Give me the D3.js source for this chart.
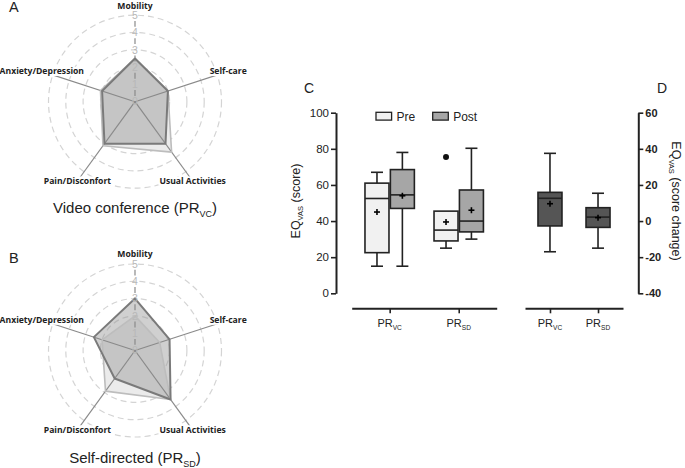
<!DOCTYPE html>
<html><head><meta charset="utf-8">
<script src="https://cdn.jsdelivr.net/npm/d3@7"></script>
<style>body{margin:0;background:#fff}svg{display:block}</style>
</head><body>
<svg id="chart" width="685" height="468"></svg>
<script>
// ---------- DATA ----------
const radarAxes = ["Mobility", "Self-care", "Usual Activities", "Pain/Disconfort", "Anxiety/Depression"];
const radarTicks = [0, 1, 2, 3, 4, 5];
const vcPre  = [2.5, 2.0, 3.6, 3.15, 2.1];
const vcPost = [2.5, 2.0, 3.0, 3.0, 2.0];
const sdPre  = [2.0, 1.5, 3.5, 2.9, 2.0];
const sdPost = [3.0, 2.1, 3.5, 2.0, 2.5];

const groups = ["VC", "SD"];
const seriesNames = ["Pre", "Post"];
const scoreTicks = [0, 20, 40, 60, 80, 100];
const changeTicks = [-40, -20, 0, 20, 40, 60];

const preMin  = [15, 25],   preQ1  = [22.5, 29],  preMed  = [52.5, 35],  preQ3  = [61, 45.5],  preMax  = [67, 45.5],  preMean  = [45, 39.5];
const preOut  = [[], [75.5]];
const postMin = [15, 30],   postQ1 = [47, 34],    postMed = [54.5, 40],  postQ3 = [68.5, 57.2], postMax = [78, 80.3], postMean = [54, 46];
const postOut = [[], []];
const chgMin  = [-17, -15], chgQ1  = [-2.7, -3.5], chgMed = [12.6, 2.2], chgQ3  = [15.9, 7.4], chgMax  = [37.5, 15.4], chgMean = [9.6, 1.9];
const chgOut  = [[], []];

// ---------- DRAW ----------
const svg = d3.select("#chart");
const SANS = "'Liberation Sans', Arial, sans-serif";
const BOLD = "'Open Sans', 'Noto Sans', sans-serif";

function subText(sel, main, sub, after, size) {
  sel.append("tspan").text(main);
  sel.append("tspan").text(sub).attr("font-size", size * 0.6).attr("dy", size * 0.25);
  if (after) sel.append("tspan").text(after).attr("dy", -size * 0.25);
}

// Radar
const rScale = d3.scaleLinear().domain([0, 5]).range([0, 86.5]);
const nAx = radarAxes.length;
const ang = i => i * 2 * Math.PI / nAx;
const LABEL_R = 98;

function radar(cx, cy, pre, post, letter, titleMain, titleSub, titleY) {
  const g = svg.append("g").attr("transform", `translate(${cx},${cy})`);
  g.selectAll("circle.ring").data(radarTicks.slice(1)).join("circle")
    .attr("r", d => rScale(d)).attr("fill", "none")
    .attr("stroke", "#d4d4d4").attr("stroke-width", 1.2).attr("stroke-dasharray", "6,4");
  const line = d3.lineRadial().angle((d, i) => ang(i)).radius(d => rScale(d)).curve(d3.curveLinearClosed);
  g.append("path").attr("d", line(pre)).attr("fill", "#ebebeb");
  g.append("path").attr("d", line(post)).attr("fill", "rgb(150,150,150)").attr("fill-opacity", 0.45);
  radarAxes.forEach((a, i) => {
    if (i === 0) return;
    const th = ang(i) - Math.PI / 2;
    g.append("line").attr("x1", 0).attr("y1", 0)
      .attr("x2", LABEL_R * Math.cos(th)).attr("y2", LABEL_R * Math.sin(th))
      .attr("stroke", "#8a8a8a").attr("stroke-width", 1.2);
  });
  const step = rScale(1);
  g.append("line").attr("x1", 0).attr("y1", 0).attr("x2", 0).attr("y2", -rScale(5))
    .attr("stroke", "#8a8a8a").attr("stroke-width", 1.2)
    .attr("stroke-dasharray", `0,${step * 0.33},${step * 0.34},${step * 0.33}`);
  g.append("path").attr("d", line(pre)).attr("fill", "none").attr("stroke", "#bdbdbd").attr("stroke-width", 1.6).attr("stroke-linejoin", "round");
  g.append("path").attr("d", line(post)).attr("fill", "none").attr("stroke", "#7a7a7a").attr("stroke-width", 2).attr("stroke-linejoin", "round");
  radarAxes.forEach((a, i) => {
    const th = ang(i) - Math.PI / 2;
    const rr = i === 0 ? 96.2 : LABEL_R;
    const x = rr * Math.cos(th), y = rr * Math.sin(th);
    const lg = g.append("g");
    const t = lg.append("text").attr("x", x).attr("y", y).attr("dy", "0.35em")
      .attr("text-anchor", "middle").attr("font-family", BOLD).attr("font-weight", "bold")
      .attr("font-size", 8.6).attr("fill", "#222").text(a);
    const bb = t.node().getBBox();
    lg.insert("rect", "text").attr("x", bb.x - 1).attr("y", bb.y + bb.height * 0.12)
      .attr("width", bb.width + 2).attr("height", bb.height * 0.76).attr("fill", "#fff");
  });
  g.selectAll("text.tk").data(radarTicks).join("text").attr("class", "tk")
    .attr("x", 0).attr("y", d => -rScale(d)).attr("dy", "0.36em")
    .attr("text-anchor", "middle").attr("font-family", SANS).attr("font-size", 10.5)
    .attr("fill", "#b8b8b8").text(d => d);
  svg.append("text").attr("x", 9).attr("y", cy - (letter === "A" ? 89.5 : 87.5))
    .attr("font-family", SANS).attr("font-size", 14.5).attr("fill", "#222").text(letter);
  const tt = svg.append("text").attr("x", cx).attr("y", titleY).attr("text-anchor", "middle")
    .attr("font-family", SANS).attr("font-size", 15).attr("fill", "#222");
  subText(tt, titleMain, titleSub, ")", 15);
}
radar(135, 101.7, vcPre, vcPost, "A", "Video conference (PR", "VC", 213);
radar(135, 350.5, sdPre, sdPost, "B", "Self-directed (PR", "SD", 463);

// Box plots
const yC = d3.scaleLinear().domain([0, 100]).range([293.3, 112.7]);
const yD = d3.scaleLinear().domain([-40, 60]).range([293.3, 112.7]);
const xC = d3.scalePoint().domain(groups).range([351.7, 496.7]).padding(0.55);
const xD = d3.scalePoint().domain(groups).range([525, 623]).padding(0.52);
const AX = "#222";

function styleAxis(g, size, weight) {
  g.select(".domain").attr("stroke", AX).attr("stroke-width", 2);
  g.selectAll(".tick line").attr("stroke", AX).attr("stroke-width", 1.6);
  g.selectAll(".tick text").attr("font-family", SANS).attr("font-size", size).attr("fill", "#222").attr("font-weight", weight || "normal");
}
const gyC = svg.append("g").attr("transform", "translate(336,0)")
  .call(d3.axisLeft(yC).tickValues(scoreTicks).tickFormat(d => String(d)).tickSize(5).tickSizeOuter(0).tickPadding(2));
styleAxis(gyC, 11.5);
const gyD = svg.append("g").attr("transform", "translate(638.3,0)")
  .call(d3.axisRight(yD).tickValues(changeTicks).tickFormat(d => String(d)).tickSize(5).tickSizeOuter(0).tickPadding(2));
styleAxis(gyD, 11, "bold");
const gxC = svg.append("g").attr("transform", "translate(0,308.3)")
  .call(d3.axisBottom(xC).tickSize(5).tickSizeOuter(0).tickFormat(""));
styleAxis(gxC, 10);
const gxD = svg.append("g").attr("transform", "translate(0,308.3)")
  .call(d3.axisBottom(xD).tickSize(5).tickSizeOuter(0).tickFormat(""));
styleAxis(gxD, 10);

function xLabels(scale) {
  groups.forEach(gname => {
    const t = svg.append("text").attr("x", scale(gname)).attr("y", 327).attr("text-anchor", "middle")
      .attr("font-family", SANS).attr("font-size", 11).attr("fill", "#222");
    subText(t, "PR", gname, null, 11);
  });
}
xLabels(xC); xLabels(xD);

function box(cxp, y, mn, q1, md, q3, mx, mean, outs, fill) {
  const w = 24, cap = 12;
  const g = svg.append("g").attr("stroke", AX).attr("stroke-width", 1.6);
  if (mx > q3) {
    g.append("line").attr("x1", cxp).attr("x2", cxp).attr("y1", y(q3)).attr("y2", y(mx));
    g.append("line").attr("x1", cxp - cap / 2).attr("x2", cxp + cap / 2).attr("y1", y(mx)).attr("y2", y(mx));
  }
  if (mn < q1) {
    g.append("line").attr("x1", cxp).attr("x2", cxp).attr("y1", y(q1)).attr("y2", y(mn));
    g.append("line").attr("x1", cxp - cap / 2).attr("x2", cxp + cap / 2).attr("y1", y(mn)).attr("y2", y(mn));
  }
  g.append("rect").attr("x", cxp - w / 2).attr("y", y(q3)).attr("width", w).attr("height", y(q1) - y(q3)).attr("fill", fill);
  g.append("line").attr("x1", cxp - w / 2).attr("x2", cxp + w / 2).attr("y1", y(md)).attr("y2", y(md));
  const m = y(mean);
  g.append("line").attr("x1", cxp - 3).attr("x2", cxp + 3).attr("y1", m).attr("y2", m).attr("stroke", "#000");
  g.append("line").attr("x1", cxp).attr("x2", cxp).attr("y1", m - 3).attr("y2", m + 3).attr("stroke", "#000");
  outs.forEach(o => svg.append("circle").attr("cx", cxp).attr("cy", y(o)).attr("r", 3).attr("fill", "#111"));
}
const OFF = 12.7;
groups.forEach((gname, i) => {
  box(xC(gname) - OFF, yC, preMin[i], preQ1[i], preMed[i], preQ3[i], preMax[i], preMean[i], preOut[i], "#f1f1f1");
  box(xC(gname) + OFF, yC, postMin[i], postQ1[i], postMed[i], postQ3[i], postMax[i], postMean[i], postOut[i], "#a6a6a6");
  box(xD(gname), yD, chgMin[i], chgQ1[i], chgMed[i], chgQ3[i], chgMax[i], chgMean[i], chgOut[i], "#555555");
});

// Legend
const legX = [376, 432.7];
const legFill = ["#f1f1f1", "#a6a6a6"];
seriesNames.forEach((s, i) => {
  svg.append("rect").attr("x", legX[i]).attr("y", 112.3).attr("width", 15.6).attr("height", 7.8)
    .attr("fill", legFill[i]).attr("stroke", AX).attr("stroke-width", 1.3);
  svg.append("text").attr("x", legX[i] + 20.5).attr("y", 120.5).attr("font-family", SANS)
    .attr("font-size", 12).attr("fill", "#222").text(s);
});

// Axis titles & panel letters
const ylc = svg.append("text").attr("transform", "translate(300,201) rotate(-90)").attr("text-anchor", "middle")
  .attr("font-family", SANS).attr("font-size", 12.5).attr("fill", "#222");
subText(ylc, "EQ", "VAS", " (score)", 12.5);
const yld = svg.append("text").attr("transform", "translate(672,201) rotate(90)").attr("text-anchor", "middle")
  .attr("font-family", SANS).attr("font-size", 12.5).attr("fill", "#222");
subText(yld, "EQ", "VAS", " (score change)", 12.5);
svg.append("text").attr("x", 309).attr("y", 93).attr("text-anchor", "middle").attr("font-family", SANS).attr("font-size", 14).attr("fill", "#222").text("C");
svg.append("text").attr("x", 662).attr("y", 93).attr("text-anchor", "middle").attr("font-family", SANS).attr("font-size", 14).attr("fill", "#222").text("D");
</script>
</body></html>
